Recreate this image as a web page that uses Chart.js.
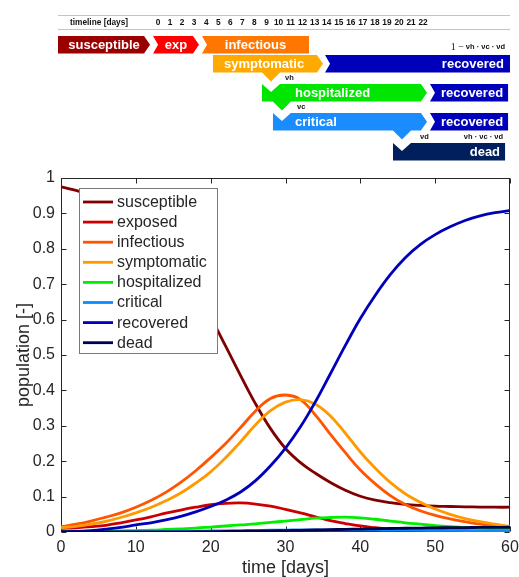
<!DOCTYPE html>
<html>
<head>
<meta charset="utf-8">
<script src="https://cdn.jsdelivr.net/npm/chart.js@4.4.1/dist/chart.umd.min.js"></script>
<style>
  html, body { margin: 0; padding: 0; background: #fff; }
  canvas { display: block; }
</style>
</head>
<body>
<canvas id="c" width="519" height="577"></canvas>
<script>
// ---- model output, sampled every 2 days ----
const days = [0,2,4,6,8,10,12,14,16,18,20,22,24,26,28,30,32,34,36,38,40,42,44,46,48,50,52,54,56,58,60];

const susceptible  = [0.975,0.965,0.951,0.932,0.907,0.877,0.840,0.795,0.742,0.680,0.607,0.525,0.442,0.362,0.292,0.236,0.196,0.166,0.140,0.118,0.101,0.090,0.083,0.078,0.075,0.073,0.072,0.071,0.0705,0.070,0.070];
const exposed      = [0.010,0.012,0.015,0.019,0.026,0.034,0.043,0.053,0.062,0.070,0.077,0.081,0.082,0.079,0.073,0.064,0.054,0.043,0.032,0.024,0.017,0.012,0.008,0.006,0.004,0.003,0.002,0.0015,0.001,0.001,0.0005];
const infectious   = [0.015,0.022,0.031,0.042,0.054,0.070,0.089,0.112,0.140,0.173,0.210,0.250,0.295,0.342,0.377,0.387,0.374,0.330,0.276,0.224,0.175,0.136,0.103,0.078,0.060,0.047,0.037,0.029,0.022,0.017,0.013];
const symptomatic  = [0.012,0.016,0.022,0.030,0.041,0.054,0.069,0.088,0.110,0.138,0.170,0.210,0.255,0.303,0.343,0.367,0.374,0.361,0.328,0.279,0.226,0.180,0.140,0.108,0.084,0.065,0.050,0.038,0.029,0.022,0.016];
const hospitalized = [0,0.0005,0.001,0.002,0.003,0.004,0.005,0.007,0.009,0.011,0.014,0.017,0.020,0.023,0.027,0.031,0.035,0.039,0.041,0.042,0.040,0.036,0.031,0.026,0.022,0.018,0.015,0.013,0.011,0.009,0.008];
const critical     = [0,0,0.0002,0.0004,0.0006,0.0008,0.001,0.0013,0.0017,0.0022,0.0028,0.0034,0.004,0.0046,0.0051,0.0055,0.0058,0.006,0.0061,0.0061,0.006,0.0058,0.0056,0.0054,0.0051,0.0048,0.0045,0.0042,0.0039,0.0036,0.0033];
const recovered    = [0,0.002,0.004,0.008,0.013,0.020,0.026,0.034,0.044,0.057,0.072,0.090,0.113,0.145,0.187,0.237,0.297,0.368,0.447,0.527,0.603,0.669,0.727,0.775,0.812,0.840,0.862,0.880,0.893,0.902,0.908];
const dead         = [0,0,0,0,0,0.0001,0.0002,0.0003,0.0005,0.0007,0.001,0.0014,0.0019,0.0025,0.0032,0.004,0.0048,0.0057,0.0066,0.0075,0.0084,0.0092,0.0099,0.0106,0.0112,0.0117,0.0122,0.0126,0.0129,0.0132,0.0134];

const seriesNames  = ['susceptible','exposed','infectious','symptomatic','hospitalized','critical','recovered','dead'];
const seriesValues = [susceptible, exposed, infectious, symptomatic, hospitalized, critical, recovered, dead];

const xTicks = [0,10,20,30,40,50,60];
const yTicks = [0,0.1,0.2,0.3,0.4,0.5,0.6,0.7,0.8,0.9,1];

// ---- disease-course timeline (day axis of the schematic) ----
const timelineDays = [0,1,2,3,4,5,6,7,8,9,10,11,12,13,14,15,16,17,18,19,20,21,22];
const stageNames = ['susceptible','exp','infectious','symptomatic','recovered','hospitalized','recovered','critical','recovered','dead'];
const stageStart = [-8.30,-0.41,3.65,4.56,13.86,8.63,22.57,9.54,22.57,19.50];
const stageEnd   = [-0.66,3.40,12.53,13.69,29.21,22.32,29.05,22.32,29.05,28.80];
const stageRow   = [0,0,0,1,1,2,2,3,3,4];
const transitionFrom = [3,5,7];   // symptomatic -> hospitalized -> critical -> dead
const transitionTo   = [5,7,9];

// ---- styling ----
const TEXT = '#262626';
const FONT = '"Liberation Sans", Arial, Helvetica, sans-serif';
const lineColors = ['#800000','#cc0000','#ff5500','#ff9900','#00ee00','#0a8cff','#0000bb','#000050'];
const stageStyle = {
  0: {fill:'#9b0000', tip:true,  notchL:false, notchT:false, align:'center'},
  1: {fill:'#ff0000', tip:true,  notchL:true,  notchT:false, align:'center'},
  2: {fill:'#ff7700', tip:false, notchL:true,  notchT:false, align:'center'},
  3: {fill:'#ffaa00', tip:true,  notchL:false, notchT:false, align:'left',  dx:11},
  4: {fill:'#0000bb', tip:false, notchL:true,  notchT:false, align:'right', dx:6},
  5: {fill:'#00e600', tip:true,  notchL:false, notchT:true,  align:'left',  dx:33},
  6: {fill:'#0000bb', tip:false, notchL:true,  notchT:false, align:'right', dx:5},
  7: {fill:'#1a8cff', tip:true,  notchL:false, notchT:true,  align:'left',  dx:22},
  8: {fill:'#0000bb', tip:false, notchL:true,  notchT:false, align:'right', dx:5},
  9: {fill:'#001f5c', tip:false, notchL:false, notchT:true,  align:'right', dx:5}
};
const rowTop = [36, 55, 84, 113, 143];
const rowH = 17.5;

const whiteBackground = {
  id: 'whiteBackground',
  beforeDraw(chart) {
    const c = chart.ctx;
    c.save(); c.fillStyle = '#fff'; c.fillRect(0, 0, chart.width, chart.height); c.restore();
  }
};

// box around the axes with inward ticks on all four sides
const axesFrame = {
  id: 'axesFrame',
  beforeDatasetsDraw(chart) {
    const {ctx, chartArea: a, scales} = chart;
    const L = Math.round(a.left) + 0.5, R = Math.round(a.right) - 0.5;
    const T = Math.round(a.top) + 0.5, B = Math.round(a.bottom) - 0.5;
    const tl = 5;
    ctx.save();
    ctx.strokeStyle = TEXT; ctx.lineWidth = 1;
    ctx.strokeRect(L, T, R - L, B - T);
    ctx.beginPath();
    xTicks.forEach(v => {
      const px = Math.round(scales.x.getPixelForValue(v)) + 0.5;
      ctx.moveTo(px, B); ctx.lineTo(px, B - tl);
      ctx.moveTo(px, T); ctx.lineTo(px, T + tl);
    });
    yTicks.forEach(v => {
      const py = Math.round(scales.y.getPixelForValue(v)) + 0.5;
      ctx.moveTo(L, py); ctx.lineTo(L + tl, py);
      ctx.moveTo(R, py); ctx.lineTo(R - tl, py);
    });
    ctx.stroke();
    ctx.restore();
  }
};

// legend box in the upper-left corner of the axes
const boxLegend = {
  id: 'boxLegend',
  afterDatasetsDraw(chart) {
    const ctx = chart.ctx;
    const x0 = 79.5, y0 = 188.5, w = 138, h = 165;
    ctx.save();
    ctx.fillStyle = '#fff';
    ctx.fillRect(x0, y0, w, h);
    ctx.strokeStyle = '#7a7a7a'; ctx.lineWidth = 1;
    ctx.strokeRect(x0, y0, w, h);
    ctx.font = '16px ' + FONT;
    ctx.textBaseline = 'middle'; ctx.textAlign = 'left';
    chart.data.datasets.forEach((ds, i) => {
      const yy = 202 + i * 20.1;
      ctx.strokeStyle = ds.borderColor; ctx.lineWidth = 2.8;
      ctx.beginPath(); ctx.moveTo(83, yy); ctx.lineTo(113, yy); ctx.stroke();
      ctx.fillStyle = TEXT;
      ctx.fillText(ds.label, 117, yy + 0.5);
    });
    ctx.restore();
  }
};

// disease-course schematic above the axes, positioned on the hidden day scale "tl"
const timeline = {
  id: 'timeline',
  afterDraw(chart) {
    const ctx = chart.ctx;
    const s = chart.scales.tl;
    const px = d => s.getPixelForValue(d);
    const TIP = 6, A = 9;
    ctx.save();

    // header rule with day numbers
    ctx.strokeStyle = '#c4c4c4'; ctx.lineWidth = 1;
    ctx.beginPath();
    ctx.moveTo(58, 15.5); ctx.lineTo(510, 15.5);
    ctx.moveTo(58, 29.5); ctx.lineTo(510, 29.5);
    ctx.stroke();
    ctx.fillStyle = '#111';
    ctx.font = 'bold 8.3px ' + FONT;
    ctx.textBaseline = 'middle';
    ctx.textAlign = 'left';
    ctx.fillText('timeline [days]', 70, 22.5);
    ctx.textAlign = 'center';
    timelineDays.forEach(d => ctx.fillText(String(d), px(d), 22.5));

    // stage arrows
    stageNames.forEach((name, i) => {
      const st = stageStyle[i];
      const x0 = px(stageStart[i]), x1 = px(stageEnd[i]);
      const top = rowTop[stageRow[i]], bot = top + rowH, mid = (top + bot) / 2;
      ctx.beginPath();
      ctx.moveTo(x0, top);
      if (st.notchT) { ctx.lineTo(x0 + A, top + 8); ctx.lineTo(x0 + 2 * A, top); }
      if (st.tip) { ctx.lineTo(x1 - TIP, top); ctx.lineTo(x1, mid); ctx.lineTo(x1 - TIP, bot); }
      else { ctx.lineTo(x1, top); ctx.lineTo(x1, bot); }
      const k = transitionFrom.indexOf(i);
      if (k >= 0) {
        const c = px(stageStart[transitionTo[k]]) + A;
        ctx.lineTo(c + A, bot); ctx.lineTo(c, bot + A); ctx.lineTo(c - A, bot);
      }
      ctx.lineTo(x0, bot);
      if (st.notchL) ctx.lineTo(x0 + 5, mid);
      ctx.closePath();
      ctx.fillStyle = st.fill;
      ctx.fill();

      ctx.fillStyle = '#fff';
      ctx.font = 'bold 13px ' + FONT;
      ctx.textBaseline = 'middle';
      let tx;
      if (st.align === 'center') { ctx.textAlign = 'center'; tx = (x0 + x1) / 2; }
      else if (st.align === 'left') { ctx.textAlign = 'left'; tx = x0 + st.dx; }
      else { ctx.textAlign = 'right'; tx = x1 - st.dx; }
      ctx.fillText(name, tx, mid + 0.5);
    });

    // branching fractions
    ctx.fillStyle = '#111';
    ctx.font = 'bold 7.5px ' + FONT;
    ctx.textBaseline = 'middle';
    ctx.textAlign = 'left';
    ctx.fillText('νh', 285, 78);
    ctx.fillText('νc', 297, 107);
    ctx.fillText('νd', 420, 137);
    ctx.textAlign = 'right';
    ctx.fillText('νh · νc · νd', 503, 137);
    ctx.fillText('νh · νc · νd', 505, 47);
    const w = ctx.measureText('νh · νc · νd').width;
    ctx.font = '10px "Liberation Serif", serif';
    ctx.fillText('1 −', 505 - w - 2, 47);
    ctx.restore();
  }
};

const datasets = seriesNames.map((name, i) => ({
  label: name,
  data: days.map((d, j) => ({x: d, y: seriesValues[i][j]})),
  borderColor: lineColors[i],
  backgroundColor: lineColors[i],
  borderWidth: 2.8,
  pointRadius: 0,
  fill: false,
  tension: 0.4,
  order: -i
}));

new Chart(document.getElementById('c'), {
  type: 'line',
  data: { datasets },
  options: {
    responsive: false,
    animation: false,
    events: [],
    layout: { padding: { top: 178, right: 9, left: 0, bottom: 0 } },
    plugins: { legend: { display: false }, tooltip: { enabled: false } },
    scales: {
      x: {
        type: 'linear', min: 0, max: 60,
        afterBuildTicks: sc => { sc.ticks = xTicks.map(v => ({value: v})); },
        ticks: { color: TEXT, font: { family: FONT, size: 16 }, padding: 6, maxRotation: 0 },
        grid: { display: false, drawTicks: false },
        border: { display: false },
        title: { display: true, text: 'time [days]', color: TEXT, font: { family: FONT, size: 18 }, padding: { top: 0, bottom: -2 } },
        afterFit: sc => { sc.height = 45; sc.paddingLeft = 0; sc.paddingRight = 0; }
      },
      y: {
        type: 'linear', min: 0, max: 1,
        afterBuildTicks: sc => { sc.ticks = yTicks.map(v => ({value: v})); },
        ticks: { color: TEXT, font: { family: FONT, size: 16 }, padding: 6, callback: v => String(Math.round(v * 10) / 10) },
        grid: { display: false, drawTicks: false },
        border: { display: false },
        title: { display: true, text: 'population [-]', color: TEXT, font: { family: FONT, size: 18 }, padding: { top: 13, bottom: 0 } },
        afterFit: sc => { sc.width = 61; }
      },
      tl: {
        type: 'linear', axis: 'x', display: false, min: -8.05, max: 29.21
      }
    }
  },
  plugins: [whiteBackground, axesFrame, boxLegend, timeline]
});
</script>
</body>
</html>
